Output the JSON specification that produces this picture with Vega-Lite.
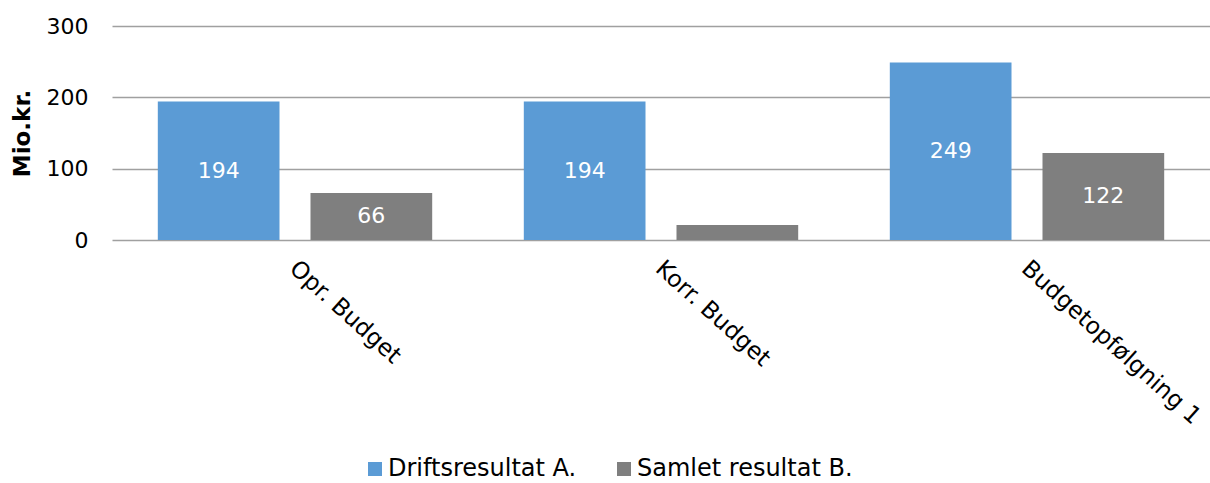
{
  "$schema": "https://vega.github.io/schema/vega-lite/v6.json",
  "width": 1085,
  "height": 214,
  "autosize": {"type": "none"},
  "padding": {"left": 112, "top": 26, "right": 13, "bottom": 243},
  "config": {"view": {"stroke": null}, "font": "DejaVu Sans"},
  "data": {
    "values": [
      {"kategori": "Opr. Budget", "serie": "Driftsresultat A.", "value": 194},
      {"kategori": "Opr. Budget", "serie": "Samlet resultat B.", "value": 66},
      {"kategori": "Korr. Budget", "serie": "Driftsresultat A.", "value": 194},
      {"kategori": "Korr. Budget", "serie": "Samlet resultat B.", "value": 21},
      {"kategori": "Budgetopfølgning 1", "serie": "Driftsresultat A.", "value": 249},
      {"kategori": "Budgetopfølgning 1", "serie": "Samlet resultat B.", "value": 122}
    ]
  },
  "layer": [
    {
      "mark": {"type": "bar"},
      "encoding": {
        "x": {
          "field": "kategori", "type": "nominal",
          "sort": ["Opr. Budget", "Korr. Budget", "Budgetopfølgning 1"],
          "scale": {"paddingInner": 0, "paddingOuter": 0, "range": [0, 1098]},
          "axis": {"title": null, "labelAngle": 42, "labelAlign": "left", "labelBaseline": "top", "labelFontSize": 23.5, "labelColor": "#000", "labelLimit": 0, "ticks": false, "tickSize": 0, "domain": false, "labelPadding": 16, "labelOffset": 6}
        },
        "xOffset": {
          "field": "serie", "type": "nominal",
          "sort": ["Driftsresultat A.", "Samlet resultat B."],
          "scale": {"paddingInner": 0.203, "paddingOuter": 0.3}
        },
        "y": {
          "field": "value", "type": "quantitative",
          "scale": {"domain": [0, 300]},
          "axis": {"title": "Mio.kr.", "titleFontSize": 23, "titleFontWeight": "bold", "titleColor": "#000", "titlePadding": 12, "values": [0, 100, 200, 300], "labelFontSize": 22, "labelColor": "#000", "labelPadding": 24, "ticks": false, "tickSize": 0, "domain": false, "grid": true, "gridColor": "#A0A0A0", "gridWidth": 1.5}
        },
        "color": {
          "field": "serie", "type": "nominal",
          "sort": ["Driftsresultat A.", "Samlet resultat B."],
          "scale": {"domain": ["Driftsresultat A.", "Samlet resultat B."], "range": ["#5B9BD5", "#7F7F7F"]},
          "legend": {"title": null, "orient": "none", "legendX": 251, "legendY": 431, "direction": "horizontal", "symbolType": "square", "symbolSize": 196, "symbolStrokeWidth": 0, "labelFontSize": 24, "labelColor": "#000", "labelLimit": 0, "labelOffset": 1, "columnPadding": 35}
        }
      }
    },
    {
      "transform": [{"filter": "datum.value > 40"}, {"calculate": "datum.value / 2", "as": "mid"}],
      "mark": {"type": "text", "color": "white", "fontSize": 22, "baseline": "middle", "align": "center"},
      "encoding": {
        "x": {"field": "kategori", "type": "nominal", "sort": ["Opr. Budget", "Korr. Budget", "Budgetopfølgning 1"]},
        "xOffset": {"field": "serie", "type": "nominal", "sort": ["Driftsresultat A.", "Samlet resultat B."]},
        "y": {"field": "mid", "type": "quantitative"},
        "text": {"field": "value", "type": "quantitative"}
      }
    }
  ]
}
